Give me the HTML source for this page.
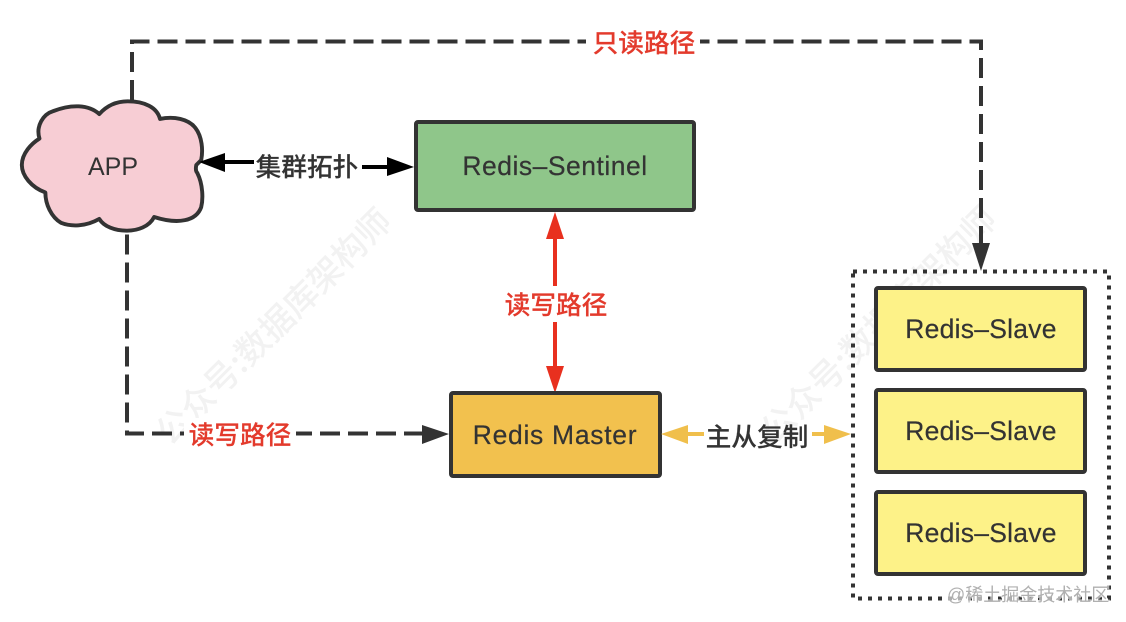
<!DOCTYPE html>
<html><head><meta charset="utf-8"><style>
html,body{margin:0;padding:0;background:#fff;width:1126px;height:622px;overflow:hidden}
svg{display:block}
text{font-family:"Liberation Sans","Noto Sans CJK SC",sans-serif}
.t{font-size:26.500px;fill:#333;stroke:#333;stroke-width:.2;text-anchor:middle}
.l{font-size:25.700px;text-anchor:middle;font-family:"Noto Sans CJK SC","Liberation Sans",sans-serif;font-weight:500;stroke-width:.15}
.w{font-size:34px;fill:#f2f2f2;text-anchor:middle;font-family:"Noto Sans CJK SC",sans-serif;font-weight:500}
.d{fill:none;stroke:#333;stroke-width:4;stroke-dasharray:20 8}
.b{stroke:#333;stroke-width:4}
</style></head><body>
<svg width="1126" height="622" viewBox="0 0 1126 622" xmlns="http://www.w3.org/2000/svg">
<text class="w" transform="translate(282,335) rotate(-45)">公众号:数据库架构师</text>
<text class="w" transform="translate(887,333) rotate(-45)">公众号:数据库架构师</text>

<!-- dashed read-only path -->
<path class="d" d="M132 100V41.500H981V245"/>
<polygon points="972,243 990,243 981,271" fill="#333"/>
<rect x="586" y="26" width="114" height="32" fill="#fff"/>
<text class="l" x="644" y="52" fill="#e33a2c" stroke="#e33a2c">只读路径</text>

<!-- dashed write path -->
<path class="d" style="stroke-dashoffset:-2.500" d="M127 232V433.500H425"/>
<polygon points="422,425 422,444 449,434" fill="#333"/>
<rect x="184" y="418" width="112" height="32" fill="#fff"/>
<text class="l" x="240" y="444" fill="#e33a2c" stroke="#e33a2c">读写路径</text>

<!-- cloud -->
<path transform="translate(112 166) scale(.98) translate(-112 -166)" d="M99 113C108 103 118 100 128 100C145 100 158 106 161 118C175 115 190 118 197 127C204 136 205 150 203 160L198 165C197 170 198 172 199 173C205 185 205 200 203 208C198 222 180 226 155 218C150 228 138 232 127 232C115 232 104 228 99 220C85 228 70 228 60 224C50 218 44 205 44 193C30 188 20 176 20 165C20 153 30 143 38 138C34 125 42 113 52 110C70 103 88 103 99 113Z" fill="#f7cdd4" stroke="#333" stroke-width="4" stroke-linejoin="round"/>
<text class="t" x="113" y="175" style="font-size:25px;stroke-width:0">APP</text>

<!-- topology arrows -->
<path d="M222 162H254M362 167H390" stroke="#000" stroke-width="4" fill="none"/>
<polygon points="199,162 225,153 225,172" fill="#000"/>
<polygon points="414,167 387,157 387,176" fill="#000"/>
<text class="l" x="307" y="176" fill="#333" stroke="#333">集群拓扑</text>

<!-- sentinel -->
<rect x="416" y="122" width="278" height="88" rx="2" fill="#8fc68a" class="b"/>
<text class="t" x="555" y="175" letter-spacing=".5">Redis–Sentinel</text>

<!-- red arrow -->
<path d="M555 235V286M555 322V370" stroke="#e8301f" stroke-width="4" fill="none"/>
<polygon points="555,212 546,239 564,239" fill="#e8301f"/>
<polygon points="555,393 546,366 564,366" fill="#e8301f"/>
<text class="l" x="556" y="314" fill="#e33a2c" stroke="#e33a2c">读写路径</text>

<!-- master -->
<rect x="451" y="393" width="209" height="83" rx="2" fill="#f2c14e" class="b"/>
<text class="t" x="555" y="444" letter-spacing=".7">Redis Master</text>

<!-- replication arrows -->
<path d="M685 434H704M812 434H830" stroke="#f0bf4c" stroke-width="4" fill="none"/>
<polygon points="661,434 688,425 688,444" fill="#f0bf4c"/>
<polygon points="851,434 824,425 824,444" fill="#f0bf4c"/>
<text class="l" x="757" y="446" fill="#333" stroke="#333">主从复制</text>

<!-- dotted container -->
<rect x="853" y="271.500" width="256" height="327" fill="none" stroke="#333" stroke-width="4" stroke-dasharray="4 6"/>

<!-- slaves -->
<rect x="876" y="288" width="209" height="82" rx="2" fill="#fdf288" class="b"/>
<text class="t" x="981" y="338" letter-spacing=".25">Redis–Slave</text>
<rect x="876" y="390" width="209" height="82" rx="2" fill="#fdf288" class="b"/>
<text class="t" x="981" y="440" letter-spacing=".25">Redis–Slave</text>
<rect x="876" y="492" width="209" height="82" rx="2" fill="#fdf288" class="b"/>
<text class="t" x="981" y="542" letter-spacing=".25">Redis–Slave</text>

<text x="947" y="601" font-size="18" fill="#fff" stroke="#fff" stroke-width="2.500" opacity=".6">@稀土掘金技术社区</text>
<text x="947" y="601" font-size="18" fill="#b0b0b0">@稀土掘金技术社区</text>
</svg>
</body></html>
